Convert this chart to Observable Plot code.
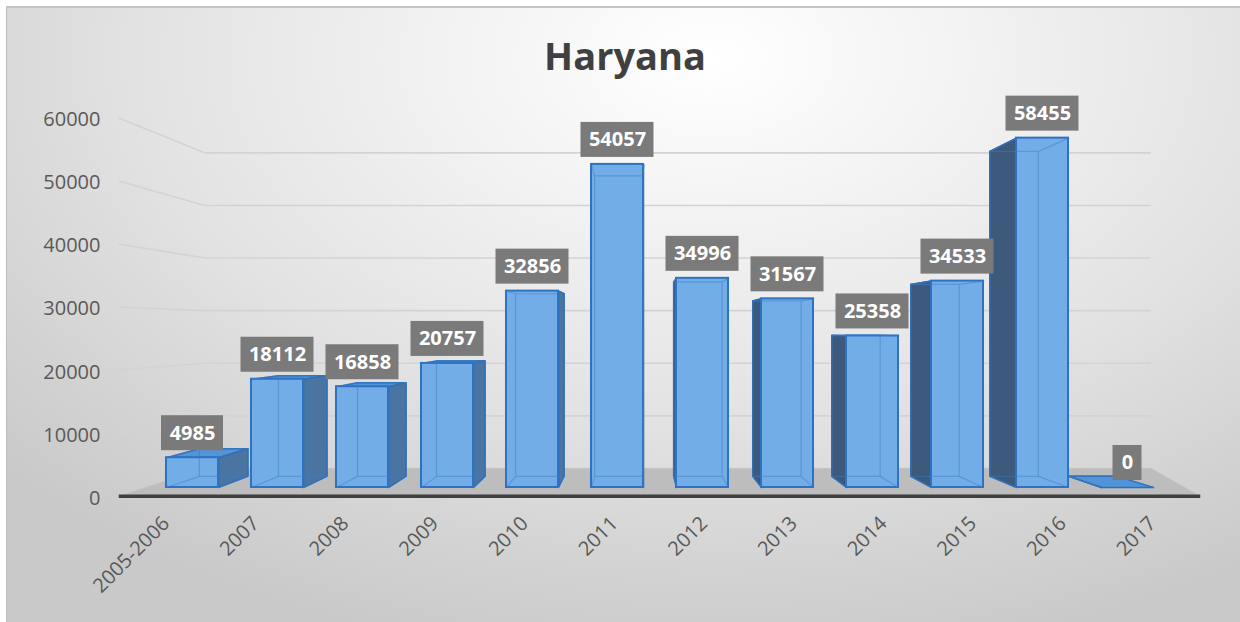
<!DOCTYPE html>
<html>
<head>
<meta charset="utf-8">
<script src="https://cdn.jsdelivr.net/npm/d3@7"></script>
<script src="https://cdn.jsdelivr.net/npm/@observablehq/plot@0.6"></script>
<style>
  html, body { margin: 0; padding: 0; background: #ffffff; }
  #page { position: relative; width: 1240px; height: 622px; overflow: hidden; font-family: "Open Sans", sans-serif; }
  #frame {
    position: absolute; left: 6px; top: 6px; right: 0; bottom: 0;
    border-left: 1px solid #bdbdbd; border-top: 2px solid #c4c4c4;
    background: radial-gradient(ellipse 78% 100% at 57% 8%, #ffffff 0%, #f1f1f1 30%, #e2e2e2 60%, #d2d2d2 85%, #c9c9c9 100%);
  }
  #title {
    position: absolute; left: 5px; top: 36px; width: 1240px; text-align: center;
    font-family: "Open Sans", sans-serif; font-weight: 700; font-size: 38px; line-height: 38px; color: #404040;
  }
  #chart { position: absolute; left: 0; top: 90px; }
</style>
</head>
<body>
<div id="page">
  <div id="frame"></div>
  <div id="title">Haryana</div>
  <div id="chart"></div>
</div>
<script>
// ---- data ----
const categories = ["2005-2006", "2007", "2008", "2009", "2010", "2011", "2012", "2013", "2014", "2015", "2016", "2017"];
const values = [4985, 18112, 16858, 20757, 32856, 54057, 34996, 31567, 25358, 34533, 58455, 0];
const yTicks = [0, 10000, 20000, 30000, 40000, 50000, 60000];

// ---- pseudo-3D geometry (in data units) ----
const PX_X = 85;                       // px per category step
const PLOT_H = 532, M_TOP = 38.4, M_BOTTOM = 135;
const PX_Y = (PLOT_H - M_TOP - M_BOTTOM) / 60000;
const VP = {i: 5.224, v: 26600};       // vanishing point
const S_BACK = 0.93, S_FRONT = 1.055, S_WALL = 0.88;
const HW = 0.306;                      // half bar width (category units)
const WALL_L = -0.55, WALL_R_BACK = 12.1, WALL_R_FRONT = 11.51;
const proj = (i, v, s) => ({x: VP.i + (i - VP.i) * s, y: VP.v + (v - VP.v) * s});

const bars = categories.map((c, k) => ({c, i: k, v: values[k]}));

const sideRows = [], topRows = [], backRows = [], edgeRows = [];
bars.forEach(b => {
  const fl = b.i - HW, fr = b.i + HW;
  const FTL = {x: fl, y: b.v}, FTR = {x: fr, y: b.v}, FBL = {x: fl, y: 0}, FBR = {x: fr, y: 0};
  const BTL = proj(fl, b.v, S_BACK), BTR = proj(fr, b.v, S_BACK), BBL = proj(fl, 0, S_BACK), BBR = proj(fr, 0, S_BACK);
  const side = b.i < VP.i ? [FTR, BTR, BBR, FBR, FTR] : [FTL, BTL, BBL, FBL, FTL];
  const dark = b.i < VP.i ? "L" : "R";
  side.forEach(p => sideRows.push({id: b.c, k: dark, ...p}));
  [FTL, FTR, BTR, BTL, FTL].forEach(p => topRows.push({id: b.c, ...p}));
  [BTL, BTR, BBR, BBL, BTL].forEach(p => backRows.push({id: b.c, ...p}));
  [[FTL, BTL], [FTR, BTR], [FBL, BBL], [FBR, BBR]].forEach(([a, z]) => edgeRows.push({x1: a.x, y1: a.y, x2: z.x, y2: z.y}));
});

// floor
const floorRows = [proj(WALL_L, 0, S_FRONT), proj(WALL_L, 0, S_WALL), proj(WALL_R_BACK, 0, S_WALL), proj(WALL_R_FRONT, 0, S_FRONT)];
const axisLine = [{a: proj(WALL_L, 0, S_FRONT), b: proj(WALL_R_FRONT, 0, S_FRONT)}];

// gridlines (back wall + left wall)
const grid = yTicks.filter(t => t > 0);
const backGrid = grid.map(t => ({a: proj(WALL_L, t, S_WALL), b: proj(WALL_R_BACK, t, S_WALL)}));
const sideGrid = grid.map(t => ({a: proj(WALL_L, t, S_FRONT), b: proj(WALL_L, t, S_WALL)}));

// tick labels on front plane
const yLabels = yTicks.map(t => ({t, y: proj(0, t, S_FRONT).y}));
const xLabels = bars.map(b => ({c: b.c, ...proj(b.i, 0, S_FRONT)}));
const LABEL_X = (100 - 192) / PX_X;

const boxW = d => (11 * String(d.v).length + 18) / PX_X;

const plot = Plot.plot({
  width: 1240,
  height: PLOT_H,
  marginLeft: 192,
  marginRight: 1240 - 192 - PX_X * 11,
  marginTop: M_TOP,
  marginBottom: M_BOTTOM,
  x: {domain: [0, 11], axis: null},
  y: {domain: [0, 60000], axis: null},
  style: {background: "transparent", fontFamily: "Open Sans, sans-serif", overflow: "visible"},
  marks: [
    // walls gridlines
    Plot.link(backGrid, {x1: d => d.a.x, y1: d => d.a.y, x2: d => d.b.x, y2: d => d.b.y, stroke: "#d3d3d3", strokeWidth: 1.6}),
    Plot.link(sideGrid, {x1: d => d.a.x, y1: d => d.a.y, x2: d => d.b.x, y2: d => d.b.y, stroke: "#d3d3d3", strokeWidth: 1.6}),
    // floor
    Plot.line([...floorRows, floorRows[0]], {x: "x", y: "y", fill: "#bdbdbd", stroke: "#c2c2c2", strokeWidth: 1}),
    Plot.link(axisLine, {x1: d => d.a.x, y1: d => d.a.y, x2: d => d.b.x, y2: d => d.b.y, stroke: "#3f3f3f", strokeWidth: 3.5, strokeLinecap: "butt"}),
    // bars: back outline, top face, side face, front face
    Plot.line(backRows, {x: "x", y: "y", z: "id", fill: "#4f86c2", stroke: "#2f6fb8", strokeWidth: 1.5}),
    Plot.line(topRows, {x: "x", y: "y", z: "id", fill: "#5294d6", stroke: "#2f70bd", strokeWidth: 1.5}),
    Plot.line(sideRows.filter(d => d.k === "L"), {x: "x", y: "y", z: "id", fill: "#4a75a2", stroke: "#2f6bb0", strokeWidth: 1.5}),
    Plot.line(sideRows.filter(d => d.k === "R"), {x: "x", y: "y", z: "id", fill: "#3d5a7c", stroke: "#2f68a8", strokeWidth: 1.5}),
    Plot.rect(bars, {x1: d => d.i - HW, x2: d => d.i + HW, y1: d => 0, y2: "v", fill: "#72ade7", stroke: "#2e72c2", strokeWidth: 2}),
    // hidden edges seen through the front face
    Plot.line(backRows, {x: "x", y: "y", z: "id", stroke: "#3c7cc8", strokeOpacity: 0.45, strokeWidth: 1.2}),
    Plot.link(edgeRows, {x1: "x1", y1: "y1", x2: "x2", y2: "y2", stroke: "#3c7cc8", strokeOpacity: 0.45, strokeWidth: 1.2}),
    // data labels
    Plot.rect(bars, {x1: d => d.i - boxW(d) / 2, x2: d => d.i + boxW(d) / 2, y1: "v", y2: d => d.v + 35 / PX_Y, dy: -7, fill: "#7a7a7a"}),
    Plot.text(bars, {x: "i", y: "v", text: d => String(d.v), dy: -24.5, fill: "#ffffff", fontSize: 20, fontWeight: "bold", lineAnchor: "middle"}),
    // y tick labels
    Plot.text(yLabels, {x: () => LABEL_X, y: "y", text: d => String(d.t), textAnchor: "end", dy: 2, fill: "#595959", fontSize: 20}),
    // x tick labels
    Plot.text(xLabels, {x: "x", y: "y", text: "c", rotate: -45, textAnchor: "end", dx: -2, dy: 24, fill: "#595959", fontSize: 20})
  ]
});
document.getElementById("chart").appendChild(plot);
</script>
</body>
</html>
